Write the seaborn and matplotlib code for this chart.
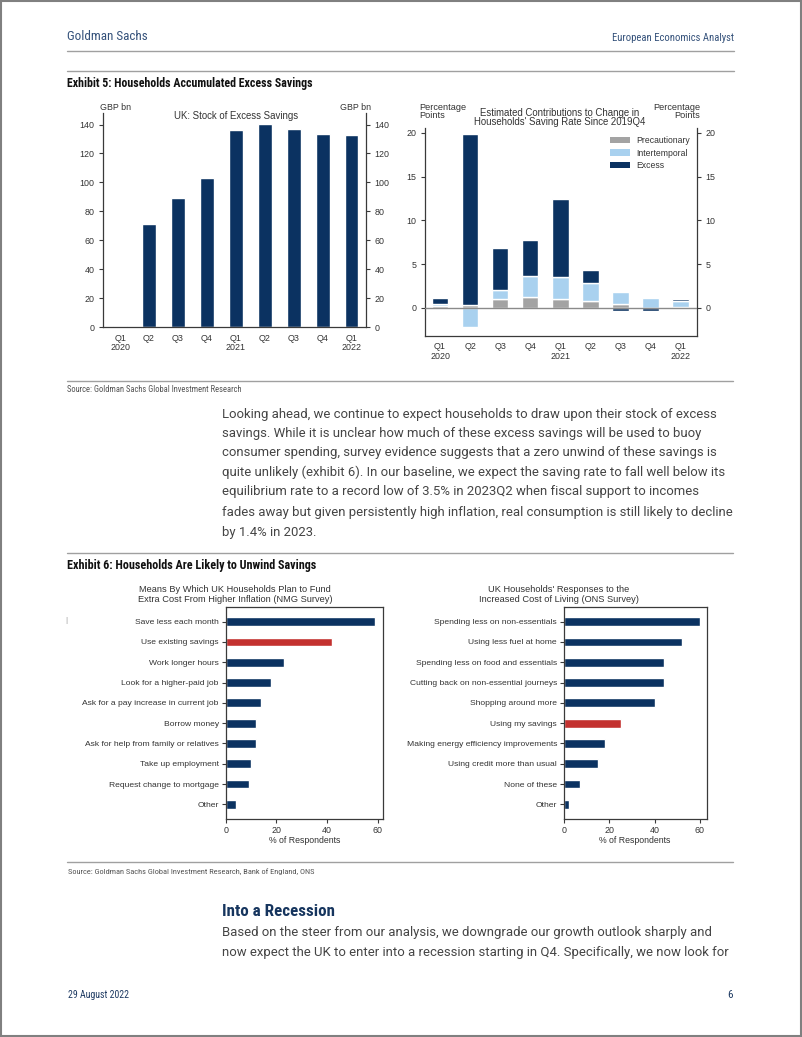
import numpy as np
import pandas as pd
import matplotlib
matplotlib.use("Agg")
import matplotlib.pyplot as plt
import seaborn as sns
from matplotlib import font_manager
from matplotlib.patches import Patch, Rectangle
from matplotlib.lines import Line2D

# ---------------- data ----------------
quarters = ["2020Q1", "2020Q2", "2020Q3", "2020Q4", "2021Q1",
            "2021Q2", "2021Q3", "2021Q4", "2022Q1"]
quarter_labels = ["Q1\n2020", "Q2", "Q3", "Q4", "Q1\n2021",
                  "Q2", "Q3", "Q4", "Q1\n2022"]
excess_stock = [0.5, 71.5, 89, 103, 136.5, 140.5, 137, 133.5, 132.5]

precautionary = [0.2, 0.3, 1.0, 1.3, 1.0, 0.8, 0.4, 0.05, 0.1]
intertemporal = [0.3, -2.2, 1.0, 2.4, 2.5, 2.0, 1.4, 1.1, 0.7]
excess_contrib = [0.6, 19.6, 4.9, 4.1, 8.9, 1.5, -0.3, -0.3, 0.2]

nmg_labels = ["Save less each month", "Use existing savings", "Work longer hours",
              "Look for a higher-paid job", "Ask for a pay increase in current job",
              "Borrow money", "Ask for help from family or relatives",
              "Take up employment", "Request change to mortgage", "Other"]
nmg_values = [59, 42, 23, 18, 14, 12, 12, 10, 9, 4]
nmg_highlight = "Use existing savings"

ons_labels = ["Spending less on non-essentials", "Using less fuel at home",
              "Spending less on food and essentials", "Cutting back on non-essential journeys",
              "Shopping around more", "Using my savings",
              "Making energy efficiency improvements", "Using credit more than usual",
              "None of these", "Other"]
ons_values = [60, 52, 44, 44, 40, 25, 18, 15, 7, 2]
ons_highlight = "Using my savings"

paragraph1 = [
    "Looking ahead, we continue to expect households to draw upon their stock of excess",
    "savings. While it is unclear how much of these excess savings will be used to buoy",
    "consumer spending, survey evidence suggests that a zero unwind of these savings is",
    "quite unlikely (exhibit 6). In our baseline, we expect the saving rate to fall well below its",
    "equilibrium rate to a record low of 3.5% in 2023Q2 when fiscal support to incomes",
    "fades away but given persistently high inflation, real consumption is still likely to decline",
    "by 1.4% in 2023.",
]
paragraph2 = [
    "Based on the steer from our analysis, we downgrade our growth outlook sharply and",
    "now expect the UK to enter into a recession starting in Q4. Specifically, we now look for",
]

# ---------------- style ----------------
sns.set_style("white")
names = {f.name for f in font_manager.fontManager.ttflist}
COND = next((n for n in ["Liberation Sans Narrow", "Roboto Condensed", "DejaVu Sans"] if n in names), "DejaVu Sans")
BODY = "Roboto" if "Roboto" in names else "Liberation Sans"
CHART = "Liberation Sans" if "Liberation Sans" in names else "DejaVu Sans"
plt.rcParams["font.family"] = [CHART, "DejaVu Sans"]

NAVY = "#0b3261"
RED = "#c3312f"
LIGHT = "#a9d1ef"
GRAY = "#a3a3a3"
AXC = "#3a3a3a"
TXT = "#333333"
BODYC = "#454545"
HEAD = "#34517a"
RULE = "#a0a0a0"

W, H = 802, 1037
fig = plt.figure(figsize=(W / 100, H / 100), dpi=100)
fig.patch.set_facecolor("white")


def fx(x):
    return x / W


def fy(y):
    return 1 - y / H


def T(x, y, s, **kw):
    kw.setdefault("va", "center")
    return fig.text(fx(x), fy(y), s, **kw)


def HL(y, x0=67, x1=734, color=RULE, lw=1.0):
    fig.add_artist(Line2D([fx(x0), fx(x1)], [fy(y), fy(y)], transform=fig.transFigure,
                          color=color, lw=lw))


def AX(x0, y0, x1, y1):
    return fig.add_axes([fx(x0), fy(y1), (x1 - x0) / W, (y1 - y0) / H])


fits = []

# page border
fig.add_artist(Rectangle((0.0008, 0.0008), 0.9984, 0.9984, transform=fig.transFigure,
                         fill=False, edgecolor="#808080", lw=1.5))

# ---------------- header ----------------
fits.append((T(67, 36, "Goldman Sachs", family=COND, color=HEAD, fontsize=10), 81))
fits.append((T(734, 38, "European Economics Analyst", family=COND, color=HEAD,
               fontsize=8, ha="right"), 122))
HL(51)
HL(71)
fits.append((T(67, 83, "Exhibit 5: Households Accumulated Excess Savings", family=COND,
               weight="bold", color="#111111", fontsize=9), 245))

# ---------------- chart 1 ----------------
ax1 = AX(103, 113, 366, 327)
df1 = pd.DataFrame({"quarter": quarters, "value": excess_stock})
sns.barplot(data=df1, x="quarter", y="value", order=quarters, color=NAVY,
            saturation=1, width=0.46, ax=ax1)
ax1.set_xlim(-0.59, 8.49)
ax1.set_ylim(0, 148)
ax1.set_yticks(np.arange(0, 141, 20))
ax1.set_xticks(range(len(quarters)))
ax1.set_xticklabels(quarter_labels, linespacing=1.0)
ax1.set_xlabel("")
ax1.set_ylabel("")
ax1.spines["top"].set_visible(False)
for s in ["left", "right", "bottom"]:
    ax1.spines[s].set_color(AXC)
    ax1.spines[s].set_linewidth(0.9)
ax1.tick_params(axis="y", which="both", left=True, right=True, labelleft=True, labelright=True,
                length=3, width=0.8, color=AXC, labelsize=6.4, labelcolor=TXT, pad=3)
ax1.tick_params(axis="x", length=2, width=0.8, color=AXC, labelsize=6.4, labelcolor=TXT, pad=3)
T(100, 107.7, "GBP bn", fontsize=6.4, color=TXT)
T(370.7, 107.7, "GBP bn", fontsize=6.4, color=TXT, ha="right")
T(235.7, 115.7, "UK: Stock of Excess Savings", fontsize=6.9, color=TXT, ha="center")

# ---------------- chart 2 ----------------
ax2 = AX(425, 128, 697, 336)
series = [("Precautionary", precautionary, GRAY),
          ("Intertemporal", intertemporal, LIGHT),
          ("Excess", excess_contrib, NAVY)]
pos = np.zeros(len(quarters))
neg = np.zeros(len(quarters))
for name, vals, col in series:
    v = np.asarray(vals, dtype=float)
    bottom = np.where(v >= 0, pos, neg)
    sns.barplot(x=quarters, y=v, order=quarters, color=col, saturation=1, width=0.55,
                bottom=bottom, ax=ax2, label=name)
    pos += np.where(v >= 0, v, 0)
    neg += np.where(v < 0, v, 0)
ax2.axhline(0, color="#8a8a8a", lw=1.0, zorder=5)
ax2.set_xlim(-0.5, 8.55)
ax2.set_ylim(-3.2, 20.57)
ax2.set_yticks([0, 5, 10, 15, 20])
ax2.set_xticks(range(len(quarters)))
ax2.set_xticklabels(quarter_labels, linespacing=1.2)
ax2.set_xlabel("")
ax2.set_ylabel("")
ax2.spines["top"].set_visible(False)
for s in ["left", "right", "bottom"]:
    ax2.spines[s].set_color(AXC)
    ax2.spines[s].set_linewidth(0.9)
ax2.tick_params(axis="y", left=True, right=True, labelleft=True, labelright=True,
                length=3, width=0.8, color=AXC, labelsize=6.4, labelcolor=TXT, pad=3)
ax2.tick_params(axis="x", length=2, width=0.8, color=AXC, labelsize=6.4, labelcolor=TXT, pad=2)
handles = [Patch(facecolor=c, edgecolor="none", label=n) for n, _, c in series]
ax2.legend(handles=handles, loc="upper left", bbox_to_anchor=(fx(610), fy(136)),
           bbox_transform=fig.transFigure, frameon=False, fontsize=6.2,
           handlelength=2.3, handleheight=0.75, labelspacing=0.42, handletextpad=0.7,
           borderpad=0, borderaxespad=0, labelcolor=TXT)
T(419, 107, "Percentage", fontsize=6.6, color=TXT)
T(419, 116, "Points", fontsize=6.6, color=TXT)
T(700, 107, "Percentage", fontsize=6.6, color=TXT, ha="right")
T(700, 116, "Points", fontsize=6.6, color=TXT, ha="right")
T(560, 113.3, "Estimated Contributions to Change in", fontsize=6.9, color=TXT, ha="center")
T(560, 122.3, "Households' Saving Rate Since 2019Q4", fontsize=6.9, color=TXT, ha="center")

# ---------------- source + paragraph ----------------
HL(380.7, 67, 733)
fits.append((T(67, 390, "Source: Goldman Sachs Global Investment Research", family=COND,
               color="#555555", fontsize=6), 176))
para_ys = [414.3, 433.3, 452.7, 472.3, 492.0, 512.3, 532.3]
para_texts = [T(221.7, y, s, family=BODY, color=BODYC, fontsize=10)
              for s, y in zip(paragraph1, para_ys)]

HL(552.7, 67, 733)
fits.append((T(67, 565, "Exhibit 6: Households Are Likely to Unwind Savings", family=COND,
               weight="bold", color="#111111", fontsize=9), 250))
T(66, 620, "|", fontsize=6, color="#999999", ha="center")

# ---------------- charts 3 & 4 ----------------
def hbar(ax, labels, values, highlight):
    df = pd.DataFrame({"label": labels, "pct": values})
    palette = {l: (RED if l == highlight else NAVY) for l in labels}
    sns.barplot(data=df, y="label", x="pct", hue="label", palette=palette, order=labels,
                hue_order=labels, legend=False, saturation=1, width=0.43, orient="h", ax=ax)
    ax.set_ylim(len(labels) - 1 + 0.72, -0.72)
    ax.set_xticks([0, 20, 40, 60])
    ax.set_ylabel("")
    ax.set_xlabel("")
    for s in ["left", "right", "bottom", "top"]:
        ax.spines[s].set_visible(True)
        ax.spines[s].set_color(AXC)
        ax.spines[s].set_linewidth(0.9)
    ax.tick_params(axis="y", left=True, length=3, width=0.8, color=AXC, labelsize=6.1,
                   labelcolor=TXT, pad=2)
    ax.tick_params(axis="x", bottom=True, length=3, width=0.8, color=AXC, labelsize=6.4,
                   labelcolor=TXT, pad=2)


ax3 = AX(225.7, 607, 383, 819)
hbar(ax3, nmg_labels, nmg_values, nmg_highlight)
ax3.set_xlim(0, 62)
T(235, 590, "Means By Which UK Households Plan to Fund", fontsize=6.7, color=TXT, ha="center")
T(235, 599.3, "Extra Cost From Higher Inflation (NMG Survey)", fontsize=6.7, color=TXT, ha="center")
T(305, 840.7, "% of Respondents", fontsize=6.3, color=TXT, ha="center")

ax4 = AX(564, 607, 707, 819)
hbar(ax4, ons_labels, ons_values, ons_highlight)
ax4.set_xlim(0, 63.2)
T(558.7, 590, "UK Households' Responses to the", fontsize=6.7, color=TXT, ha="center")
T(558.7, 599.3, "Increased Cost of Living (ONS Survey)", fontsize=6.7, color=TXT, ha="center")
T(635, 840.7, "% of Respondents", fontsize=6.3, color=TXT, ha="center")

# ---------------- bottom ----------------
HL(862, 67, 733)
fits.append((T(68, 871.7, "Source: Goldman Sachs Global Investment Research, Bank of England, ONS",
               family=COND, color="#555555", fontsize=6), 248))
fits.append((T(221.7, 911, "Into a Recession", family=COND, weight="bold", color="#16355e",
               fontsize=12), 113))
para2_texts = [T(221.7, y, s, family=BODY, color=BODYC, fontsize=10)
               for s, y in zip(paragraph2, [932.7, 952.7])]
fits.append((T(68, 995, "29 August 2022", family=COND, color="#1f3b63", fontsize=8), 62))
T(733, 995, "6", family=COND, color="#1f3b63", fontsize=8, ha="right")

# ---------------- fit widths ----------------
r = fig.canvas.get_renderer()
for t, target in fits:
    w = t.get_window_extent(r).width
    t.set_fontsize(t.get_fontsize() * target / w)
w0 = para_texts[0].get_window_extent(r).width
scale = 495.0 / w0
for t in para_texts + para2_texts:
    t.set_fontsize(t.get_fontsize() * scale)

fig.savefig("out.png", dpi=100, facecolor="white")
